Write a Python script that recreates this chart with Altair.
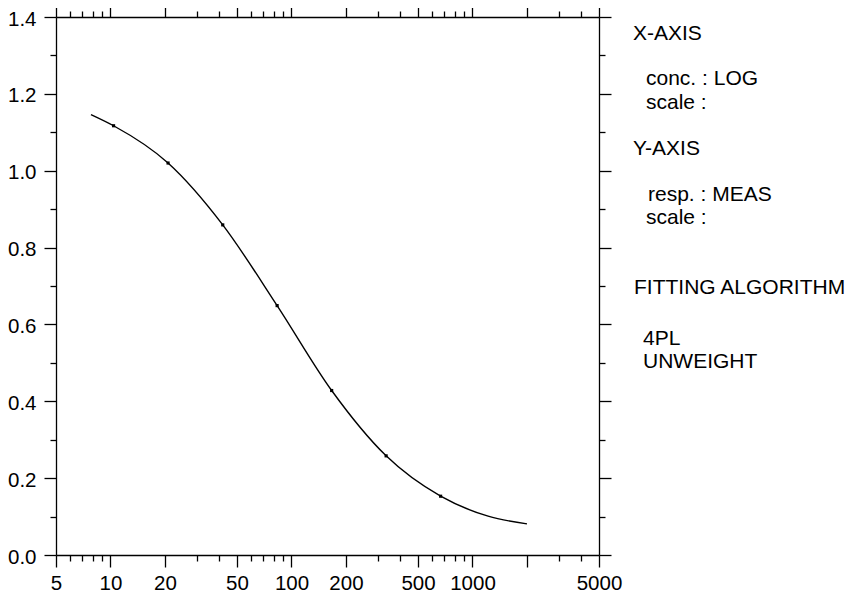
import json
import altair as alt
import pandas as pd

# ---------------- data ----------------
curve_conc = [7.8, 10.4, 20.8, 41.7, 83.3, 166.7, 333.3, 666.7, 1220, 2000]
curve_resp = [1.146, 1.117, 1.020, 0.859, 0.649, 0.428, 0.258, 0.153, 0.101, 0.081]

std_conc = [10.4, 20.8, 41.7, 83.3, 166.7, 333.3, 666.7]
std_resp = [1.117, 1.020, 0.859, 0.649, 0.428, 0.258, 0.153]

x_ticks = [5, 6, 7, 8, 9, 10, 20, 30, 40, 50, 60, 70, 80, 90, 100,
           200, 300, 400, 500, 600, 700, 800, 900, 1000, 2000, 3000, 4000, 5000]
x_major = [5, 10, 20, 50, 100, 200, 500, 1000, 2000, 5000]
x_labels = [5, 10, 20, 50, 100, 200, 500, 1000, 5000]
y_ticks = [0.0, 0.1, 0.2, 0.3, 0.4, 0.5, 0.6, 0.7, 0.8, 0.9, 1.0, 1.1, 1.2, 1.3, 1.4]

panel_lines = ["X-AXIS", "conc. : LOG", "scale :", "Y-AXIS", "resp. : MEAS",
               "scale :", "FITTING ALGORITHM", "4PL", "UNWEIGHT"]

# ---------------- layout / style ----------------
FONT = "Liberation Sans"
PANEL_POS = [(577, 23), (590, 68), (590, 92), (577, 138), (592, 184),
             (590, 207), (578, 277), (587, 328), (587, 351)]
W, H = 543, 538

curve_df = pd.DataFrame({"conc": curve_conc, "resp": curve_resp})
std_df = pd.DataFrame({"conc": std_conc, "resp": std_resp})

xscale = alt.Scale(type="log", domain=[5, 5000], nice=False)
yscale = alt.Scale(domain=[0, 1.4], nice=False, zero=True)

x_major_test = f"indexof({json.dumps(x_major)}, datum.value) >= 0"
x_label_test = f"indexof({json.dumps(x_labels)}, datum.value) >= 0"
y_major_test = "round(datum.value * 10) % 2 == 0"

common = dict(tickColor="black", tickWidth=1.3, domainColor="black",
              domainWidth=1.3, grid=False, title=None, labelOverlap=False,
              labelFlush=False)


def x_axis(orient, labels):
    kw = dict(common, orient=orient, values=x_ticks,
              tickSize={"condition": {"test": x_major_test, "value": 12}, "value": 6})
    if labels:
        kw.update(labelExpr=f"{x_label_test} ? format(datum.value, 'd') : ''",
                  labelFont=FONT, labelFontSize=20.5, labelColor="black",
                  labelPadding=6)
    else:
        kw.update(labels=False)
    return alt.Axis(**kw)


def y_axis(orient, labels):
    kw = dict(common, orient=orient, values=y_ticks,
              tickSize={"condition": {"test": y_major_test, "value": 12}, "value": 6})
    if labels:
        kw.update(labelExpr=f"{y_major_test} ? format(datum.value, '.1f') : ''",
                  labelFont=FONT, labelFontSize=20.5, labelColor="black",
                  labelPadding=8, labelOffset=2)
    else:
        kw.update(labels=False)
    return alt.Axis(**kw)


line = alt.Chart(curve_df).mark_line(
    interpolate="monotone", color="black", strokeWidth=1.4
).encode(
    x=alt.X("conc:Q", scale=xscale, axis=x_axis("bottom", True)),
    y=alt.Y("resp:Q", scale=yscale, axis=y_axis("left", True)),
)

points = alt.Chart(std_df).mark_square(
    size=10, color="black", filled=True, opacity=1
).encode(
    x=alt.X("conc:Q", scale=xscale, axis=x_axis("top", False)),
    y=alt.Y("resp:Q", scale=yscale, axis=y_axis("right", False)),
)

texts = []
for txt, (px, py) in zip(panel_lines, PANEL_POS):
    texts.append(
        alt.Chart(pd.DataFrame({"t": [txt]})).mark_text(
            align="left", baseline="alphabetic", font=FONT, fontSize=21,
            color="black"
        ).encode(x=alt.value(px), y=alt.value(py), text="t:N")
    )

chart = alt.layer(line, points, *texts).resolve_axis(
    x="independent", y="independent"
).properties(
    width=W, height=H,
    padding={"left": 48, "top": 9, "right": 246, "bottom": 40},
    autosize=alt.AutoSizeParams(type="none"),
    background="white",
).configure_view(stroke=None)

chart.save("out.html", embed_options={"renderer": "svg", "actions": False})
